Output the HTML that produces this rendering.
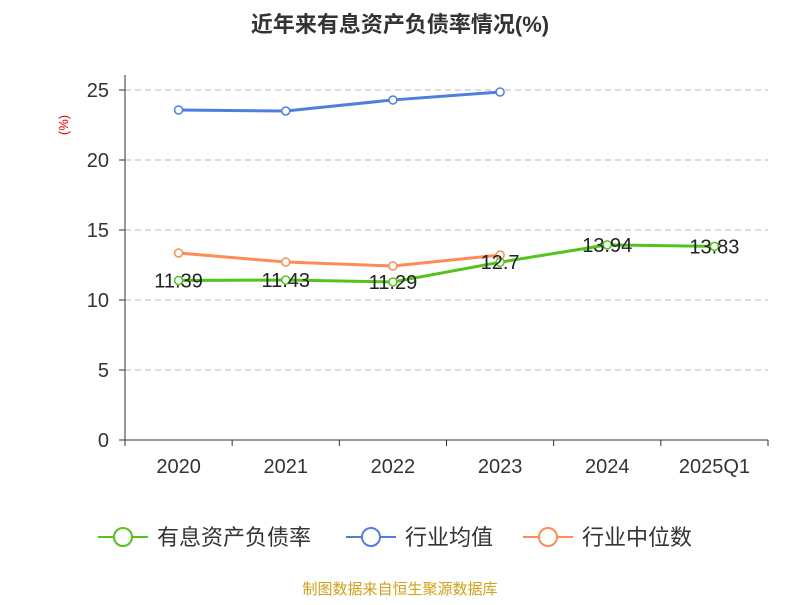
<!DOCTYPE html>
<html><head><meta charset="utf-8"><style>
body{margin:0;background:#fff;}
svg text{font-family:"Liberation Sans","Noto Sans CJK SC",sans-serif;}
</style></head><body>
<svg id="chart" width="800" height="600" xmlns="http://www.w3.org/2000/svg">
<text x="400" y="32" text-anchor="middle" font-size="22" font-weight="bold" fill="#333">近年来有息资产负债率情况(%)</text>
<text x="68" y="125" text-anchor="middle" font-size="13" fill="#e00" transform="rotate(-90 68 125)">(%)</text>
<g id="grid"></g><g id="axes"></g><g id="series"></g>
<g>
<g><line x1="98" y1="537" x2="148" y2="537" stroke="#52c41a" stroke-width="2"/><circle cx="123" cy="537" r="9" fill="#fff" stroke="#52c41a" stroke-width="2"/><text x="157" y="545" font-size="22" fill="#333">有息资产负债率</text></g>
<g><line x1="346" y1="537" x2="396" y2="537" stroke="#4e7fdf" stroke-width="2"/><circle cx="371" cy="537" r="9" fill="#fff" stroke="#4e7fdf" stroke-width="2"/><text x="405" y="545" font-size="22" fill="#333">行业均值</text></g>
<g><line x1="523" y1="537" x2="573" y2="537" stroke="#ff8c55" stroke-width="2"/><circle cx="548" cy="537" r="9" fill="#fff" stroke="#ff8c55" stroke-width="2"/><text x="582" y="545" font-size="22" fill="#333">行业中位数</text></g>
</g>
<text x="400" y="594" text-anchor="middle" font-size="15" fill="#d4a017">制图数据来自恒生聚源数据库</text>
</svg>
<script>
const categories=["2020","2021","2022","2023","2024","2025Q1"];
const debtRatio=[11.39,11.43,11.29,12.7,13.94,13.83];
const industryAvg=[23.57,23.5,24.29,24.86];
const industryMedian=[13.36,12.71,12.43,13.21];
const yTicks=[0,5,10,15,20,25];
const NS="http://www.w3.org/2000/svg";
const plotLeft=125,plotRight=768,plotTop=90,plotBottom=440,ymax=25;
const bw=(plotRight-plotLeft)/categories.length;
const xs=i=>plotLeft+bw*(i+0.5);
const ys=v=>plotBottom-(v/ymax)*(plotBottom-plotTop);
function mk(t,a,p){const e=document.createElementNS(NS,t);for(const k in a)e.setAttribute(k,a[k]);p.appendChild(e);return e;}
const grid=document.getElementById('grid'),axes=document.getElementById('axes'),ser=document.getElementById('series');
yTicks.forEach(v=>{
 if(v>0){const g=mk('line',{x1:plotLeft,x2:plotRight,y1:ys(v),y2:ys(v),stroke:'#bbb','stroke-dasharray':'6,4'},grid);
 
 }
 const tk=mk('line',{x1:plotLeft-6,x2:plotLeft,y1:ys(v),y2:ys(v),stroke:'#333'},axes);
 
 
 const t=mk('text',{x:plotLeft-16,y:ys(v)+7,'text-anchor':'end','font-size':20,fill:'#333'},axes);t.textContent=v;
 
 
});
const ya=mk('line',{x1:plotLeft,x2:plotLeft,y1:plotTop-15,y2:plotBottom,stroke:'#333'},axes);


const xa=mk('line',{x1:plotLeft,x2:plotRight,y1:plotBottom,y2:plotBottom,stroke:'#333'},axes);


for(let i=0;i<=categories.length;i++){const tk=mk('line',{x1:plotLeft+bw*i,x2:plotLeft+bw*i,y1:plotBottom,y2:plotBottom+6,stroke:'#333'},axes);
 
 }
categories.forEach((c,i)=>{const t=mk('text',{x:xs(i),y:plotBottom+33,'text-anchor':'middle','font-size':20,fill:'#333'},axes);t.textContent=c;
 
 });
function series(vals,color,name,labels){
 const g=mk('g',{},ser);
 
 
 const pts=vals.map((v,i)=>xs(i)+','+ys(v)).join(' ');
 mk('polyline',{points:pts,fill:'none',stroke:color,'stroke-width':3},g);
 vals.forEach((v,i)=>{const c=mk('circle',{cx:xs(i),cy:ys(v),r:4,fill:'#fff',stroke:color,'stroke-width':1.5},g);
  
  
  if(labels){const t=mk('text',{x:xs(i),y:ys(v)+7,'text-anchor':'middle','font-size':20,fill:'#222'},g);t.textContent=v;
  
  }
 });
}
series(industryAvg,'#4e7fdf','industry-avg-line',false);
series(industryMedian,'#ff8c55','industry-median-line',false);
series(debtRatio,'#52c41a','debt-ratio-line',true);
</script>
</body></html>
